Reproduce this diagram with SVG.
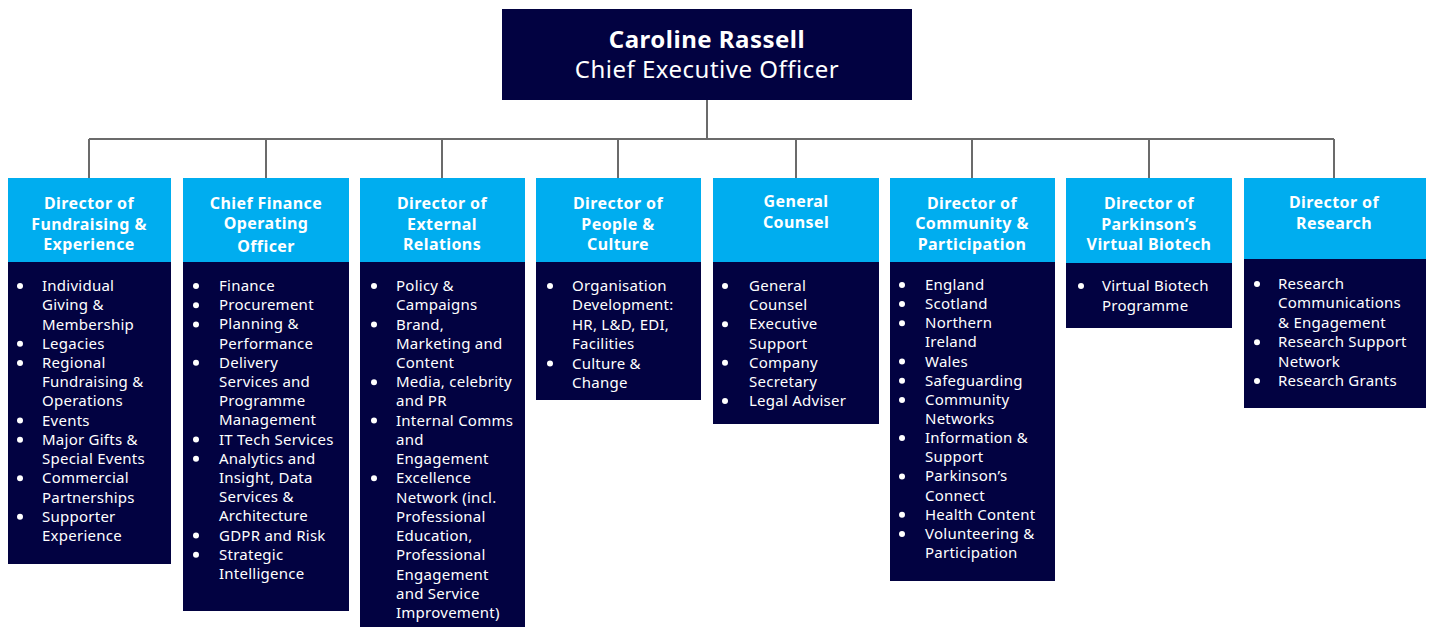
<svg xmlns="http://www.w3.org/2000/svg" width="1432" height="627" viewBox="0 0 1432 627">
<style>
.hd{fill:#00adef}
.bd{fill:#020241}
.ceo{fill:#020241}
.ht{font-family:"Noto Sans","Liberation Sans",sans-serif;font-weight:700;font-size:16px;letter-spacing:0.4px;fill:#ffffff;text-anchor:middle}
.bt{font-family:"Noto Sans","Liberation Sans",sans-serif;font-size:15px;letter-spacing:0.25px;fill:#ffffff}
.bl{fill:#ffffff}
.n1{font-family:"Noto Sans","Liberation Sans",sans-serif;font-weight:700;font-size:24px;letter-spacing:0.5px;fill:#ffffff;text-anchor:middle}
.n2{font-family:"Noto Sans","Liberation Sans",sans-serif;font-size:24px;letter-spacing:0.5px;fill:#ffffff;text-anchor:middle}
.cn{fill:none;stroke:#6b6b6b;stroke-width:2}
</style>
<rect width="1432" height="627" fill="#ffffff"/>
<g id="connectors">
<path class="cn" d="M707 100V139M89 139H1334M89 139V178M266 139V178M442 139V178M618 139V178M796 139V178M972 139V178M1149 139V178M1334 139V178"/>
</g>
<g id="ceo">
<rect class="ceo" x="502" y="9" width="410" height="91"/>
<text class="n1" x="707" y="48">Caroline Rassell</text>
<text class="n2" x="707" y="78">Chief Executive Officer</text>
</g>
<g id="fundraising">
<rect class="hd" x="8" y="178" width="163" height="84"/>
<rect class="bd" x="8" y="262" width="163" height="302"/>
<text class="ht"><tspan x="89" y="209">Director of</tspan><tspan x="89" y="230">Fundraising &amp;</tspan><tspan x="89" y="250">Experience</tspan></text>
<g class="bl"><circle cx="20" cy="286" r="3"/><circle cx="20" cy="343.7" r="3"/><circle cx="20" cy="362.9" r="3"/><circle cx="20" cy="420.6" r="3"/><circle cx="20" cy="439.8" r="3"/><circle cx="20" cy="478.3" r="3"/><circle cx="20" cy="516.8" r="3"/></g>
<text class="bt"><tspan x="42" y="291">Individual</tspan><tspan x="42" y="310.2">Giving &amp;</tspan><tspan x="42" y="329.5">Membership</tspan><tspan x="42" y="348.7">Legacies</tspan><tspan x="42" y="367.9">Regional</tspan><tspan x="42" y="387.2">Fundraising &amp;</tspan><tspan x="42" y="406.4">Operations</tspan><tspan x="42" y="425.6">Events</tspan><tspan x="42" y="444.8">Major Gifts &amp;</tspan><tspan x="42" y="464.1">Special Events</tspan><tspan x="42" y="483.3">Commercial</tspan><tspan x="42" y="502.5">Partnerships</tspan><tspan x="42" y="521.8">Supporter</tspan><tspan x="42" y="541">Experience</tspan></text>
</g>
<g id="finance">
<rect class="hd" x="183" y="178" width="166" height="84"/>
<rect class="bd" x="183" y="262" width="166" height="349"/>
<text class="ht"><tspan x="266" y="209">Chief Finance</tspan><tspan x="266" y="229">Operating</tspan><tspan x="266" y="252">Officer</tspan></text>
<g class="bl"><circle cx="196" cy="286" r="3"/><circle cx="196" cy="305.2" r="3"/><circle cx="196" cy="324.4" r="3"/><circle cx="196" cy="362.8" r="3"/><circle cx="196" cy="439.6" r="3"/><circle cx="196" cy="458.8" r="3"/><circle cx="196" cy="535.6" r="3"/><circle cx="196" cy="554.8" r="3"/></g>
<text class="bt"><tspan x="219" y="291">Finance</tspan><tspan x="219" y="310.2">Procurement</tspan><tspan x="219" y="329.4">Planning &amp;</tspan><tspan x="219" y="348.6">Performance</tspan><tspan x="219" y="367.8">Delivery</tspan><tspan x="219" y="387">Services and</tspan><tspan x="219" y="406.2">Programme</tspan><tspan x="219" y="425.4">Management</tspan><tspan x="219" y="444.6">IT Tech Services</tspan><tspan x="219" y="463.8">Analytics and</tspan><tspan x="219" y="483">Insight, Data</tspan><tspan x="219" y="502.2">Services &amp;</tspan><tspan x="219" y="521.4">Architecture</tspan><tspan x="219" y="540.6">GDPR and Risk</tspan><tspan x="219" y="559.8">Strategic</tspan><tspan x="219" y="579">Intelligence</tspan></text>
</g>
<g id="external">
<rect class="hd" x="360" y="178" width="165" height="84"/>
<rect class="bd" x="360" y="262" width="165" height="366"/>
<text class="ht"><tspan x="442" y="209">Director of</tspan><tspan x="442" y="230">External</tspan><tspan x="442" y="250">Relations</tspan></text>
<g class="bl"><circle cx="374" cy="286" r="3"/><circle cx="374" cy="324.5" r="3"/><circle cx="374" cy="382.2" r="3"/><circle cx="374" cy="420.6" r="3"/><circle cx="374" cy="478.3" r="3"/></g>
<text class="bt"><tspan x="396" y="291">Policy &amp;</tspan><tspan x="396" y="310.2">Campaigns</tspan><tspan x="396" y="329.5">Brand,</tspan><tspan x="396" y="348.7">Marketing and</tspan><tspan x="396" y="367.9">Content</tspan><tspan x="396" y="387.2">Media, celebrity</tspan><tspan x="396" y="406.4">and PR</tspan><tspan x="396" y="425.6">Internal Comms</tspan><tspan x="396" y="444.8">and</tspan><tspan x="396" y="464.1">Engagement</tspan><tspan x="396" y="483.3">Excellence</tspan><tspan x="396" y="502.5">Network (incl.</tspan><tspan x="396" y="521.8">Professional</tspan><tspan x="396" y="541">Education,</tspan><tspan x="396" y="560.2">Professional</tspan><tspan x="396" y="579.5">Engagement</tspan><tspan x="396" y="598.7">and Service</tspan><tspan x="396" y="617.9">Improvement)</tspan></text>
</g>
<g id="people">
<rect class="hd" x="536" y="178" width="165" height="84"/>
<rect class="bd" x="536" y="262" width="165" height="138"/>
<text class="ht"><tspan x="618" y="209">Director of</tspan><tspan x="618" y="230">People &amp;</tspan><tspan x="618" y="250">Culture</tspan></text>
<g class="bl"><circle cx="550" cy="286" r="3"/><circle cx="550" cy="363.6" r="3"/></g>
<text class="bt"><tspan x="572" y="291">Organisation</tspan><tspan x="572" y="310.4">Development:</tspan><tspan x="572" y="329.8">HR, L&amp;D, EDI,</tspan><tspan x="572" y="349.2">Facilities</tspan><tspan x="572" y="368.6">Culture &amp;</tspan><tspan x="572" y="388">Change</tspan></text>
</g>
<g id="counsel">
<rect class="hd" x="713" y="178" width="166" height="84"/>
<rect class="bd" x="713" y="262" width="166" height="162"/>
<text class="ht"><tspan x="796" y="207">General</tspan><tspan x="796" y="228">Counsel</tspan></text>
<g class="bl"><circle cx="725" cy="286" r="3"/><circle cx="725" cy="324.3" r="3"/><circle cx="725" cy="362.7" r="3"/><circle cx="725" cy="401" r="3"/></g>
<text class="bt"><tspan x="749" y="291">General</tspan><tspan x="749" y="310.2">Counsel</tspan><tspan x="749" y="329.3">Executive</tspan><tspan x="749" y="348.5">Support</tspan><tspan x="749" y="367.7">Company</tspan><tspan x="749" y="386.8">Secretary</tspan><tspan x="749" y="406">Legal Adviser</tspan></text>
</g>
<g id="community">
<rect class="hd" x="890" y="178" width="165" height="84"/>
<rect class="bd" x="890" y="262" width="165" height="319"/>
<text class="ht"><tspan x="972" y="209">Director of</tspan><tspan x="972" y="229">Community &amp;</tspan><tspan x="972" y="250">Participation</tspan></text>
<g class="bl"><circle cx="902" cy="285" r="3"/><circle cx="902" cy="304.1" r="3"/><circle cx="902" cy="323.3" r="3"/><circle cx="902" cy="361.6" r="3"/><circle cx="902" cy="380.7" r="3"/><circle cx="902" cy="399.9" r="3"/><circle cx="902" cy="438.1" r="3"/><circle cx="902" cy="476.4" r="3"/><circle cx="902" cy="514.7" r="3"/><circle cx="902" cy="533.9" r="3"/></g>
<text class="bt"><tspan x="925" y="290">England</tspan><tspan x="925" y="309.1">Scotland</tspan><tspan x="925" y="328.3">Northern</tspan><tspan x="925" y="347.4">Ireland</tspan><tspan x="925" y="366.6">Wales</tspan><tspan x="925" y="385.7">Safeguarding</tspan><tspan x="925" y="404.9">Community</tspan><tspan x="925" y="424">Networks</tspan><tspan x="925" y="443.1">Information &amp;</tspan><tspan x="925" y="462.3">Support</tspan><tspan x="925" y="481.4">Parkinson’s</tspan><tspan x="925" y="500.6">Connect</tspan><tspan x="925" y="519.7">Health Content</tspan><tspan x="925" y="538.9">Volunteering &amp;</tspan><tspan x="925" y="558">Participation</tspan></text>
</g>
<g id="biotech">
<rect class="hd" x="1066" y="178" width="166" height="85"/>
<rect class="bd" x="1066" y="263" width="166" height="65"/>
<text class="ht"><tspan x="1149" y="209">Director of</tspan><tspan x="1149" y="230">Parkinson’s</tspan><tspan x="1149" y="250">Virtual Biotech</tspan></text>
<g class="bl"><circle cx="1081" cy="286" r="3"/></g>
<text class="bt"><tspan x="1102" y="291">Virtual Biotech</tspan><tspan x="1102" y="311">Programme</tspan></text>
</g>
<g id="research">
<rect class="hd" x="1244" y="178" width="182" height="81"/>
<rect class="bd" x="1244" y="259" width="182" height="149"/>
<text class="ht"><tspan x="1334" y="208">Director of</tspan><tspan x="1334" y="228.5">Research</tspan></text>
<g class="bl"><circle cx="1257" cy="284" r="3"/><circle cx="1257" cy="342.2" r="3"/><circle cx="1257" cy="381" r="3"/></g>
<text class="bt"><tspan x="1278" y="289">Research</tspan><tspan x="1278" y="308.4">Communications</tspan><tspan x="1278" y="327.8">&amp; Engagement</tspan><tspan x="1278" y="347.2">Research Support</tspan><tspan x="1278" y="366.6">Network</tspan><tspan x="1278" y="386">Research Grants</tspan></text>
</g>
</svg>
